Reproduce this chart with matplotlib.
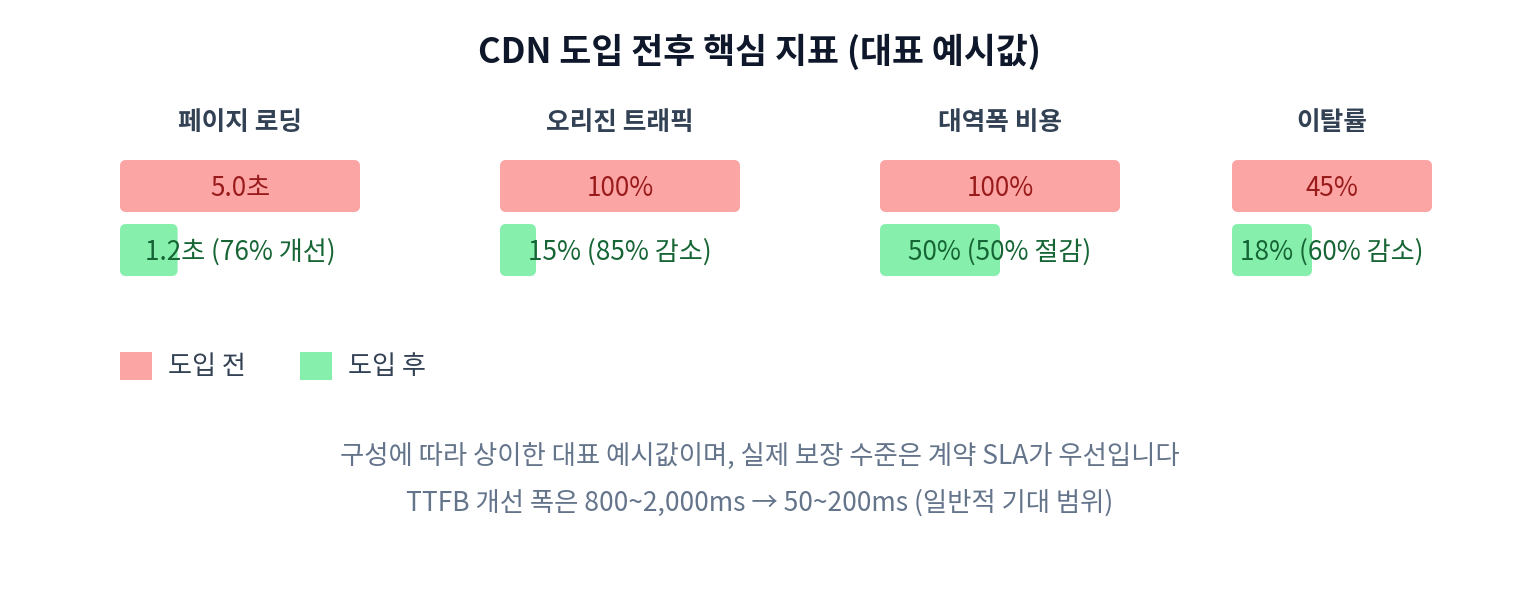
import matplotlib
matplotlib.use('Agg')
import matplotlib.pyplot as plt
from matplotlib.patches import FancyBboxPatch, Rectangle

plt.rcParams['font.family'] = ['Noto Sans CJK KR', 'DejaVu Sans']

# 데이터
metrics = ['페이지 로딩', '오리진 트래픽', '대역폭 비용', '이탈률']
before = [5.0, 100, 100, 45]
after = [1.2, 15, 50, 18]
before_labels = ['5.0초', '100%', '100%', '45%']
after_labels = ['1.2초 (76% 개선)', '15% (85% 감소)', '50% (50% 절감)', '18% (60% 감소)']
legend_labels = ['도입 전', '도입 후']
notes = ['구성에 따라 상이한 대표 예시값이며, 실제 보장 수준은 계약 SLA가 우선입니다',
         'TTFB 개선 폭은 800~2,000ms → 50~200ms (일반적 기대 범위)']

# 레이아웃 (픽셀)
panel_x = [120, 500, 880, 1232]
panel_w = [240, 240, 240, 200]
c_before = '#FCA5A5'
c_after = '#86EFAC'

fig = plt.figure(figsize=(15.2, 6), dpi=100)
ax = fig.add_axes([0, 0, 1, 1])
ax.set_xlim(0, 1520)
ax.set_ylim(600, 0)
ax.axis('off')

ax.text(760, 52, 'CDN 도입 전후 핵심 지표 (대표 예시값)', ha='center', va='center',
        fontsize=25, fontweight='bold', color='#0F172A')

for i in range(len(metrics)):
    x0 = panel_x[i]
    w = panel_w[i]
    cx = x0 + w / 2
    ax.text(cx, 123, metrics[i], ha='center', va='center', fontsize=18.5,
            fontweight='bold', color='#334155')
    wb = w * before[i] / before[i]
    wa = w * after[i] / before[i]
    ax.add_patch(FancyBboxPatch((x0, 160), wb, 52, boxstyle='round,pad=0,rounding_size=6',
                                fc=c_before, ec='none'))
    ax.add_patch(FancyBboxPatch((x0, 224), wa, 52, boxstyle='round,pad=0,rounding_size=6',
                                fc=c_after, ec='none'))
    ax.text(cx, 188, before_labels[i], ha='center', va='center', fontsize=18.8, color='#991B1B')
    ax.text(cx, 252, after_labels[i], ha='center', va='center', fontsize=18.8, color='#166534')

# 범례
lx = [120, 300]
for j, (lab, c) in enumerate(zip(legend_labels, [c_before, c_after])):
    ax.add_patch(Rectangle((lx[j], 352), 32, 28, fc=c, ec='none'))
    ax.text(lx[j] + 48, 367, lab, ha='left', va='center', fontsize=18.8, color='#334155')

ax.text(760, 456, notes[0], ha='center', va='center', fontsize=19, color='#64748B')
ax.text(760, 503, notes[1], ha='center', va='center', fontsize=19, color='#64748B')

fig.savefig('out.png', dpi=100, facecolor='white')
